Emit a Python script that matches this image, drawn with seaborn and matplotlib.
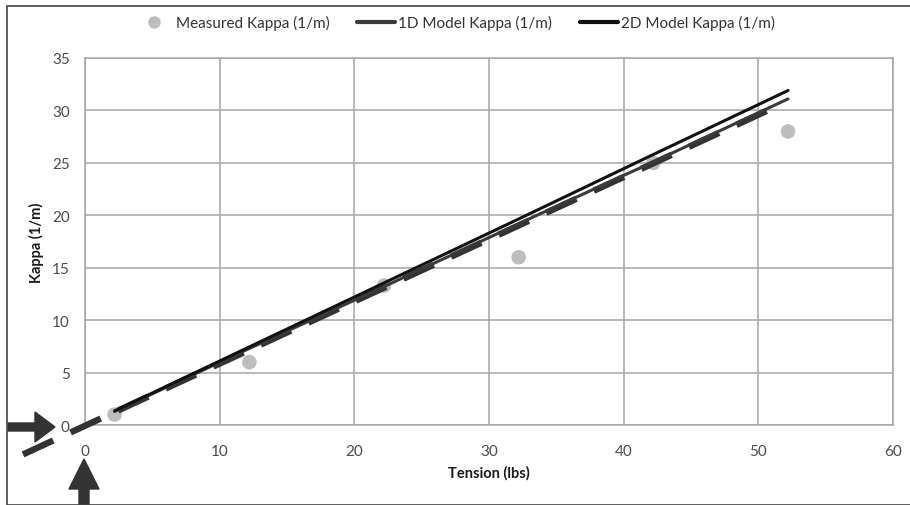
import matplotlib
matplotlib.use("Agg")
import matplotlib.pyplot as plt
import seaborn as sns
import pandas as pd
from matplotlib.patches import FancyArrow, Rectangle
from matplotlib.lines import Line2D

# Data
tension = [2.2, 12.2, 22.2, 32.2, 42.2, 52.2]
measured_kappa = [1.0, 6.0, 13.3, 16.0, 25.0, 28.0]
model_1d = [1.3, 7.3, 13.2, 19.2, 25.1, 31.1]
model_2d = [1.35, 7.45, 13.55, 19.65, 25.8, 31.9]
fit_x = [-4.6, 51.2]
fit_y = [-2.8, 30.3]

x_ticks = [0, 10, 20, 30, 40, 50, 60]
y_ticks = [0, 5, 10, 15, 20, 25, 30, 35]

df = pd.DataFrame({"Tension": tension, "Measured": measured_kappa,
                   "1D": model_1d, "2D": model_2d})
fit_df = pd.DataFrame({"x": fit_x, "y": fit_y})

sns.set_style("white")
plt.rcParams["font.family"] = ["Lato", "DejaVu Sans"]

fig = plt.figure(figsize=(9.1, 5.06), dpi=100)
ax = fig.add_axes([0.0934, 0.158, 0.888, 0.7254])

tick_col = "#4a4a4a"
grid_col = "#a6a6a6"

ax.grid(True, color=grid_col, linewidth=1.1)
ax.set_axisbelow(True)

sns.scatterplot(data=df, x="Tension", y="Measured", ax=ax, color="#bdbdbd",
                s=110, edgecolor="none", zorder=2, legend=False)
sns.lineplot(data=fit_df, x="x", y="y", ax=ax, color="#333333",
             linewidth=4.6, dashes=False, zorder=3, legend=False)
ax.lines[-1].set_dashes((5.2, 3.0))
ax.lines[-1].set_clip_on(False)
sns.lineplot(data=df, x="Tension", y="1D", ax=ax, color="#3a3a3a",
             linewidth=2.2, zorder=4, legend=False)
sns.lineplot(data=df, x="Tension", y="2D", ax=ax, color="#111111",
             linewidth=2.2, zorder=4, legend=False)

ax.set_xlim(0, 60)
ax.set_ylim(0, 35)
ax.set_xticks(x_ticks)
ax.set_yticks(y_ticks)
ax.tick_params(axis="both", colors=grid_col, labelcolor=tick_col,
               labelsize=11, length=5, width=1.1, direction="out")
ax.tick_params(axis="x", pad=9)
ax.tick_params(axis="y", pad=6)
for sp in ax.spines.values():
    sp.set_color(grid_col)
    sp.set_linewidth(1.1)

ax.set_xlabel("Tension (lbs)", fontsize=10.5, fontweight="bold",
              color="#1a1a1a", labelpad=5)
ax.set_ylabel("Kappa (1/m)", fontsize=10.5, fontweight="bold",
              color="#1a1a1a", labelpad=6)

handles = [
    Line2D([], [], marker="o", linestyle="none", markersize=9,
           markerfacecolor="#bdbdbd", markeredgecolor="none"),
    Line2D([], [], color="#3a3a3a", linewidth=3),
    Line2D([], [], color="#111111", linewidth=3),
]
labels = ["Measured Kappa (1/m)", "1D Model Kappa (1/m)", "2D Model Kappa (1/m)"]
fig.legend(handles, labels, loc="center", bbox_to_anchor=(0.5, 0.953),
           ncol=3, frameon=False, fontsize=11, handlelength=2.5,
           handletextpad=0.2, columnspacing=1.8, labelcolor="#333333")

# arrows pointing at the origin labels (figure inches)
fig.add_artist(FancyArrow(0.08, 0.78, 0.47, 0.0, width=0.08,
                          head_width=0.30, head_length=0.20,
                          length_includes_head=True, color="#333333",
                          transform=fig.dpi_scale_trans))
fig.add_artist(FancyArrow(0.84, 0.0, 0.0, 0.46, width=0.10,
                          head_width=0.30, head_length=0.30,
                          length_includes_head=True, color="#333333",
                          transform=fig.dpi_scale_trans))

# outer frame
fig.add_artist(Rectangle((0.07, 0.005), 9.2, 4.98, fill=False,
                         edgecolor="#444444", linewidth=1.2,
                         transform=fig.dpi_scale_trans))

fig.savefig("out.png", dpi=100)
